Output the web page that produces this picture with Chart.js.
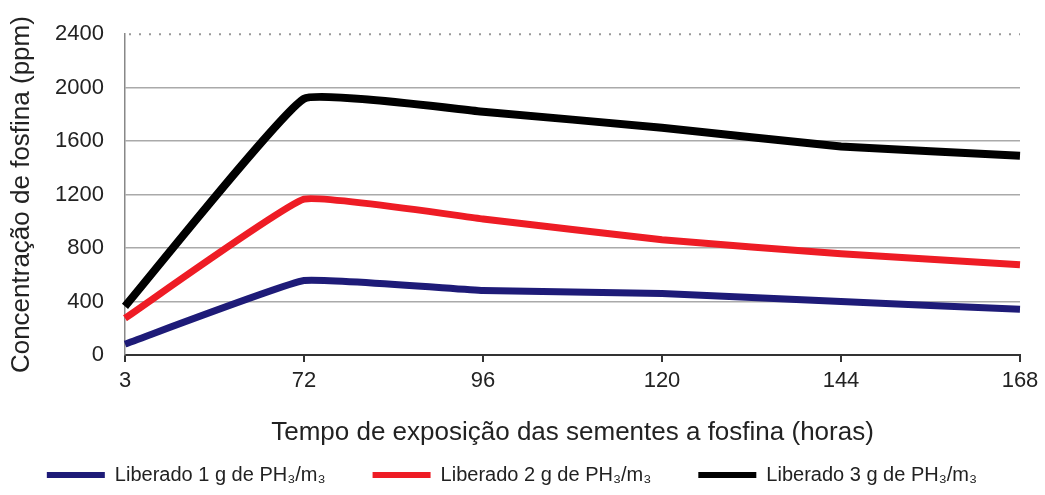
<!DOCTYPE html>
<html>
<head>
<meta charset="utf-8">
<script src="https://cdn.jsdelivr.net/npm/chart.js@4"></script>
<style>
  html, body { margin: 0; padding: 0; background: #fff; }
  #wrap { width: 1045px; height: 495px; }
</style>
</head>
<body>
<div id="wrap"><canvas id="chart"></canvas></div>
<script>
// Data
const hours = ["3", "72", "96", "120", "144", "168"];
const dose1 = [82, 557, 483, 460, 400, 342];
const dose2 = [275, 1166, 1018, 862, 758, 676];
const dose3 = [364, 1917, 1820, 1700, 1560, 1490];
const seriesNames = [
    "Liberado 1 g de PH\u2083/m\u2083",
    "Liberado 2 g de PH\u2083/m\u2083",
    "Liberado 3 g de PH\u2083/m\u2083"
];
const yTicks = [0, 400, 800, 1200, 1600, 2000, 2400];

const FONT = "'Liberation Sans', Arial, sans-serif";
const TXT = '#222';

// dotted line on the top gridline (2400)
const topDotted = {
    id: 'topDotted',
    beforeDatasetsDraw(chart) {
        const { ctx, chartArea, scales } = chart;
        const y = scales.y.getPixelForValue(yTicks[yTicks.length - 1]);
        ctx.save();
        ctx.strokeStyle = '#999';
        ctx.lineWidth = 2;
        ctx.setLineDash([2, 8]);
        ctx.beginPath();
        ctx.moveTo(chartArea.left + 4, y);
        ctx.lineTo(chartArea.right, y);
        ctx.stroke();
        ctx.restore();
    }
};

const mkSet = (label, data, color, width) => ({
    label: label,
    data: data,
    borderColor: color,
    backgroundColor: color,
    borderWidth: width,
    pointRadius: 0,
    tension: 0.1,
    fill: false
});

new Chart(document.getElementById('chart'), {
    type: 'line',
    data: {
        labels: hours,
        datasets: [
            mkSet(seriesNames[0], dose1, '#1e1b78', 7),
            mkSet(seriesNames[1], dose2, '#ee1c25', 7),
            mkSet(seriesNames[2], dose3, '#000000', 8)
        ]
    },
    options: {
        responsive: true,
        maintainAspectRatio: false,
        animation: false,
        layout: { padding: { left: 4, right: 25, top: 32, bottom: 0 } },
        plugins: {
            legend: {
                position: 'bottom',
                labels: {
                    font: { family: FONT, size: 20 },
                    color: TXT,
                    boxWidth: 58,
                    boxHeight: 6,
                    padding: 8,
                    // widen the gap after the first two entries
                    generateLabels(chart) {
                        const items = Chart.defaults.plugins.legend.labels.generateLabels(chart);
                        items.forEach((it, i) => {
                            it.lineWidth = 0;
                            if (i < items.length - 1) it.text = it.text + '\u00a0'.repeat(7);
                        });
                        return items;
                    }
                }
            },
            tooltip: { enabled: false }
        },
        scales: {
            x: {
                offset: false,
                grid: { drawOnChartArea: false, color: '#333', tickLength: 7, lineWidth: 2 },
                border: { color: '#333', width: 2 },
                ticks: { font: { family: FONT, size: 22 }, color: TXT, padding: 6, maxRotation: 0 },
                title: {
                    display: true,
                    text: 'Tempo de exposição das sementes a fosfina (horas)',
                    font: { family: FONT, size: 26 },
                    color: TXT,
                    padding: { top: 4, bottom: 9 }
                },
                afterFit(scale) { scale.height = 102; }
            },
            y: {
                min: 0,
                max: 2400,
                afterBuildTicks(scale) { scale.ticks = yTicks.map(v => ({ value: v })); },
                grid: {
                    drawTicks: false,
                    color: ctx => (ctx.tick && ctx.tick.value === 2400) ? 'rgba(0,0,0,0)' : '#aaa',
                    lineWidth: 1.5
                },
                border: { color: '#888', width: 1.5 },
                ticks: { font: { family: FONT, size: 22 }, color: TXT, padding: 21, callback: v => String(v) },
                title: {
                    display: true,
                    text: 'Concentração de fosfina (ppm)',
                    font: { family: FONT, size: 26 },
                    color: TXT,
                    padding: { top: 2, bottom: 0 }
                },
                afterFit(scale) { scale.width = 121; }
            }
        }
    },
    plugins: [topDotted]
});
</script>
</body>
</html>
